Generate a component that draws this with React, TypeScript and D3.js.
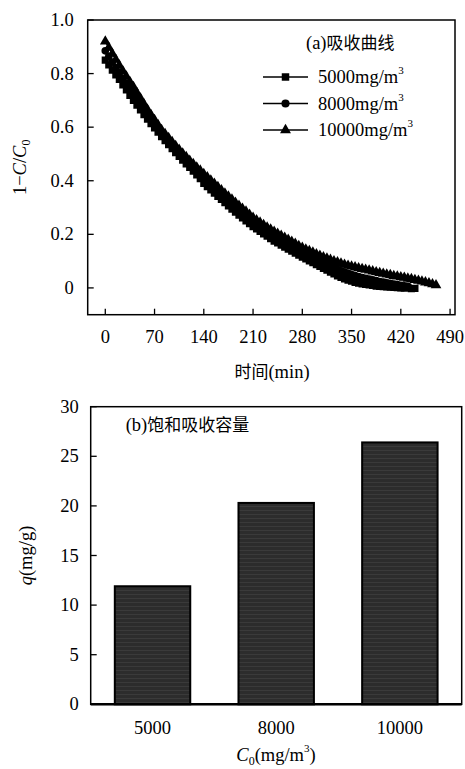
import React from "react";
import * as d3 from "d3";

// ---------- Panel (a) data: 1 - C/C0 vs time (min), 5-min sampling ----------
const times5000 = d3.range(0, 445, 5);
const s5000 = [
  0.850, 0.832, 0.813, 0.795, 0.778, 0.758, 0.739, 0.719, 0.700, 0.682,
  0.664, 0.647, 0.630, 0.613, 0.597, 0.581, 0.565, 0.550, 0.535, 0.520,
  0.505, 0.491, 0.477, 0.463, 0.450, 0.436, 0.422, 0.408, 0.390, 0.378,
  0.366, 0.354, 0.342, 0.330, 0.318, 0.306, 0.294, 0.283, 0.272, 0.261,
  0.250, 0.240, 0.229, 0.220, 0.211, 0.202, 0.193, 0.184, 0.175, 0.168,
  0.160, 0.152, 0.145, 0.137, 0.130, 0.122, 0.115, 0.108, 0.101, 0.094,
  0.087, 0.080, 0.073, 0.066, 0.059, 0.052, 0.045, 0.039, 0.034, 0.029,
  0.025, 0.021, 0.018, 0.015, 0.013, 0.011, 0.009, 0.007, 0.006, 0.005,
  0.004, 0.003, 0.002, 0.001, 0.000, -0.001, 0.002, -0.003, -0.002,
];
const times8000 = d3.range(0, 435, 5);
const s8000 = [
  0.885, 0.864, 0.843, 0.823, 0.804, 0.783, 0.764, 0.744, 0.725, 0.705,
  0.686, 0.667, 0.648, 0.630, 0.612, 0.595, 0.578, 0.563, 0.548, 0.533,
  0.518, 0.504, 0.490, 0.476, 0.463, 0.450, 0.436, 0.423, 0.408, 0.396,
  0.384, 0.372, 0.360, 0.348, 0.336, 0.324, 0.312, 0.301, 0.290, 0.279,
  0.268, 0.257, 0.246, 0.237, 0.228, 0.219, 0.210, 0.201, 0.193, 0.185,
  0.178, 0.170, 0.163, 0.155, 0.148, 0.140, 0.133, 0.126, 0.119, 0.112,
  0.106, 0.099, 0.093, 0.087, 0.081, 0.075, 0.069, 0.064, 0.059, 0.054,
  0.050, 0.046, 0.042, 0.039, 0.036, 0.033, 0.030, 0.027, 0.024, 0.022,
  0.019, 0.017, 0.014, 0.012, 0.010, 0.008, 0.006,
];
const times10000 = d3.range(0, 475, 5);
const s10000 = [
  0.920, 0.897, 0.874, 0.852, 0.830, 0.809, 0.789, 0.769, 0.750, 0.728,
  0.707, 0.686, 0.665, 0.646, 0.627, 0.608, 0.590, 0.575, 0.560, 0.545,
  0.530, 0.516, 0.502, 0.489, 0.475, 0.463, 0.450, 0.438, 0.425, 0.413,
  0.401, 0.389, 0.377, 0.365, 0.353, 0.341, 0.330, 0.318, 0.307, 0.296,
  0.285, 0.273, 0.262, 0.253, 0.244, 0.235, 0.226, 0.218, 0.210, 0.202,
  0.195, 0.187, 0.180, 0.172, 0.165, 0.157, 0.150, 0.144, 0.138, 0.132,
  0.126, 0.120, 0.115, 0.110, 0.105, 0.100, 0.096, 0.091, 0.087, 0.083,
  0.080, 0.077, 0.074, 0.071, 0.068, 0.065, 0.062, 0.059, 0.056, 0.053,
  0.050, 0.048, 0.045, 0.043, 0.040, 0.038, 0.035, 0.033, 0.030, 0.027,
  0.024, 0.021, 0.018, 0.014, 0.010,
];
const seriesLabels = ["5000mg/m", "8000mg/m", "10000mg/m"];
const xTicksA = [0, 70, 140, 210, 280, 350, 420, 490];
const yTicksA = [0, 0.2, 0.4, 0.6, 0.8, 1.0];

// ---------- Panel (b) data: saturated absorption capacity ----------
const concentrations = ["5000", "8000", "10000"];
const capacity = [11.9, 20.3, 26.4];
const yTicksB = [0, 5, 10, 15, 20, 25, 30];

const SERIF = "'Liberation Serif', 'Times New Roman', Times, serif";
const CJK = "'Noto Sans CJK SC', 'Liberation Serif', serif";
const ts: React.CSSProperties = { fontFamily: SERIF, fontSize: 18.5 };
const cjk: React.CSSProperties = { fontFamily: CJK, fontSize: 17 };

export default function App() {
  // Panel (a) geometry
  const aL = 87.7, aR = 455, aT = 20, aB = 314.7;
  const xA = d3.scaleLinear().domain([-25, 497]).range([aL, aR]);
  const yA = d3.scaleLinear().domain([-0.1, 1.0]).range([aB, aT]);

  const series = [
    { t: times5000, v: s5000, shape: d3.symbolSquare, size: 52 },
    { t: times8000, v: s8000, shape: d3.symbolCircle, size: 46 },
    { t: times10000, v: s10000, shape: d3.symbolTriangle, size: 50 },
  ];
  const line = d3
    .line<[number, number]>()
    .x((d) => xA(d[0]))
    .y((d) => yA(d[1]));

  // Panel (b) geometry
  const bL = 90.7, bR = 461.7, bT = 406.7, bB = 704.3;
  const xB = d3
    .scaleBand<string>()
    .domain(concentrations)
    .range([bL, bR])
    .paddingInner(0.39)
    .paddingOuter(0.195);
  const yB = d3.scaleLinear().domain([0, 30]).range([bB, bT]);

  return (
    <svg
      width={465}
      height={769}
      style={{ position: "absolute", left: 0, top: 0, background: "#fff", fontFamily: SERIF }}
    >
      <defs>
        <pattern id="stripes" width="4" height="4" patternUnits="userSpaceOnUse">
          <rect width="4" height="4" fill="#2c2c2c" />
          <rect y="2" width="4" height="1" fill="#3a3a3a" />
        </pattern>
        <clipPath id="clipA">
          <rect x={aL} y={aT} width={aR - aL} height={aB - aT} />
        </clipPath>
      </defs>

      {/* ================= Panel (a) ================= */}
      <rect x={aL} y={aT} width={aR - aL} height={aB - aT} fill="none" stroke="#000" strokeWidth={1.5} />
      {yTicksA.map((t) => (
        <g key={"ya" + t}>
          <line x1={aL} x2={aL + 6} y1={yA(t)} y2={yA(t)} stroke="#000" strokeWidth={1.3} />
          <text x={aL - 14} y={yA(t) + 6} textAnchor="end" style={ts}>
            {t === 0 ? "0" : t.toFixed(1)}
          </text>
        </g>
      ))}
      {xTicksA.map((t) => (
        <g key={"xa" + t}>
          <line x1={xA(t)} x2={xA(t)} y1={aB} y2={aB - 6} stroke="#000" strokeWidth={1.3} />
          <text x={xA(t)} y={aB + 28} textAnchor="middle" style={ts}>
            {t}
          </text>
        </g>
      ))}
      <text x={272} y={378} textAnchor="middle" style={ts}>
        <tspan style={cjk}>时间</tspan>(min)
      </text>
      <text transform={`translate(26,${(aT + aB) / 2}) rotate(-90)`} textAnchor="middle" style={ts}>
        1−<tspan fontStyle="italic">C</tspan>/<tspan fontStyle="italic">C</tspan>
        <tspan fontSize={12} dy={4}>0</tspan>
      </text>

      <g clipPath="url(#clipA)">
        {series.map((s, i) => {
          const pts = s.t.map((t, j) => [t, s.v[j]] as [number, number]);
          const sym = d3.symbol().type(s.shape).size(s.size)() || "";
          return (
            <g key={"s" + i}>
              <path d={line(pts) || ""} fill="none" stroke="#000" strokeWidth={1.5} />
              {pts.map((p, j) => (
                <path key={j} d={sym} transform={`translate(${xA(p[0])},${yA(p[1])})`} fill="#000" />
              ))}
            </g>
          );
        })}
      </g>

      {/* legend */}
      <text x={306} y={49} style={ts}>
        (a)<tspan style={cjk}>吸收曲线</tspan>
      </text>
      {series.map((s, i) => {
        const y = 77 + i * 26.5;
        const sym = d3.symbol().type(s.shape).size(i === 0 ? 56 : 52)() || "";
        return (
          <g key={"lg" + i}>
            <line x1={263} x2={308} y1={y} y2={y} stroke="#000" strokeWidth={1.5} />
            <path d={sym} transform={`translate(285.5,${y})`} fill="#000" />
            <text x={318} y={y + 6} style={ts}>
              {seriesLabels[i]}
              <tspan fontSize={11} dy={-9}>3</tspan>
            </text>
          </g>
        );
      })}

      {/* ================= Panel (b) ================= */}
      <rect x={bL} y={bT} width={bR - bL} height={bB - bT} fill="none" stroke="#000" strokeWidth={1.5} />
      {concentrations.map((c, i) => (
        <rect
          key={c}
          x={xB(c)}
          y={yB(capacity[i])}
          width={xB.bandwidth()}
          height={bB - yB(capacity[i])}
          fill="url(#stripes)"
          stroke="#000"
          strokeWidth={2}
        />
      ))}
      <line x1={bL} x2={bR} y1={bB} y2={bB} stroke="#000" strokeWidth={2.5} />
      {yTicksB.map((t) => (
        <g key={"yb" + t}>
          <line x1={bL} x2={bL + 6} y1={yB(t)} y2={yB(t)} stroke="#000" strokeWidth={1.3} />
          <text x={bL - 12} y={yB(t) + 6} textAnchor="end" style={ts}>
            {t}
          </text>
        </g>
      ))}
      {concentrations.map((c) => (
        <text key={"xb" + c} x={(xB(c) || 0) + xB.bandwidth() / 2} y={734} textAnchor="middle" style={ts}>
          {c}
        </text>
      ))}
      <text x={276} y={761} textAnchor="middle" style={ts}>
        <tspan fontStyle="italic">C</tspan>
        <tspan fontSize={12} dy={4}>0</tspan>
        <tspan dy={-4}>(mg/m</tspan>
        <tspan fontSize={11} dy={-9}>3</tspan>
        <tspan dy={9}>)</tspan>
      </text>
      <text transform={`translate(32,${(bT + bB) / 2}) rotate(-90)`} textAnchor="middle" style={ts}>
        <tspan fontStyle="italic">q</tspan>(mg/g)
      </text>
      <text x={125.7} y={431} style={ts}>
        (b)<tspan style={cjk}>饱和吸收容量</tspan>
      </text>
    </svg>
  );
}
